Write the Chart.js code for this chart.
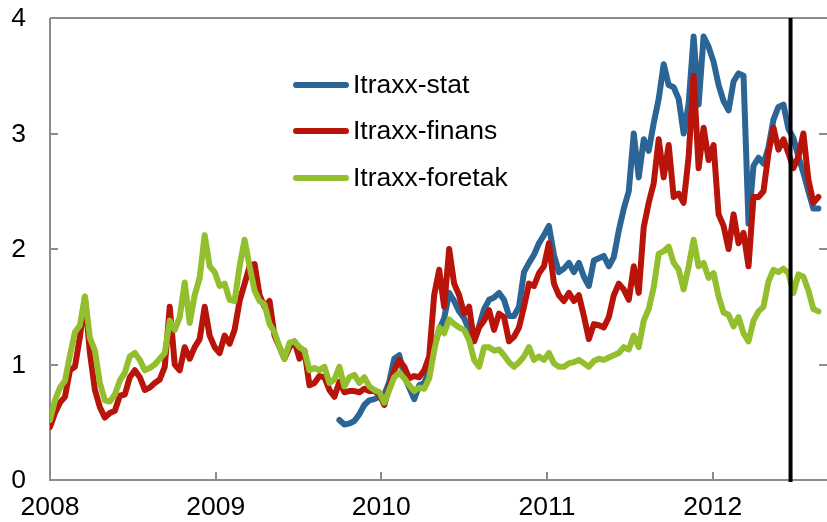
<!DOCTYPE html>
<html>
<head>
<meta charset="utf-8">
<script src="https://cdn.jsdelivr.net/npm/chart.js@4.4.1/dist/chart.umd.min.js"></script>
<style>
  html, body { margin: 0; padding: 0; background: #fff; overflow: hidden; }
  #c { display: block; }
</style>
</head>
<body>
<canvas id="c" width="827" height="522"></canvas>
<script>
// sampling grid: one point every 11 days from 1 Jan 2008
var startYear = 2008;
var stepDays = 11;
var pointCount = 155;
var dates = [];
for (var i = 0; i < pointCount; i++) dates.push(startYear + i * stepDays / 365.25);

var xTicks = [2008, 2009, 2010, 2011, 2012];
var yTicks = [0, 1, 2, 3, 4];
var xMin = 2008, xMax = 2012.69;
var markerDate = 2012.47; // vertical line

var seriesNames = ['Itraxx-stat', 'Itraxx-finans', 'Itraxx-foretak'];

var finans = [
  0.46,0.58,0.67,0.72,0.95,0.98,1.24,1.58,1.10,0.78,
  0.63,0.54,0.58,0.60,0.73,0.74,0.89,0.95,0.89,0.78,
  0.80,0.84,0.87,0.98,1.50,1.00,0.95,1.15,1.05,1.15,
  1.22,1.50,1.25,1.15,1.10,1.25,1.18,1.30,1.55,1.70,
  1.85,1.87,1.60,1.50,1.55,1.25,1.15,1.05,1.15,1.20,
  1.05,1.12,0.82,0.84,0.90,0.89,0.78,0.72,0.85,0.76,
  0.77,0.77,0.76,0.79,0.77,0.77,0.74,0.65,0.81,0.95,
  1.04,0.98,0.88,0.90,0.89,0.95,1.07,1.60,1.82,1.50,
  2.00,1.70,1.60,1.44,1.50,1.20,1.32,1.38,1.47,1.30,
  1.44,1.41,1.20,1.24,1.32,1.50,1.70,1.68,1.79,1.85,
  2.05,1.70,1.60,1.55,1.62,1.55,1.60,1.42,1.22,1.35,
  1.34,1.32,1.41,1.60,1.70,1.65,1.56,1.85,1.62,2.19,
  2.40,2.57,2.95,2.62,2.90,2.45,2.48,2.40,2.80,3.50,
  2.70,3.05,2.77,2.90,2.30,2.20,2.00,2.30,2.05,2.14,
  1.85,2.45,2.45,2.50,2.83,3.05,2.86,2.95,2.83,2.70,
  2.80,3.00,2.60,2.40,2.45
];

var foretak = [
  0.52,0.69,0.80,0.86,1.08,1.28,1.34,1.59,1.23,1.12,
  0.84,0.69,0.68,0.74,0.86,0.93,1.07,1.10,1.04,0.95,
  0.97,1.00,1.05,1.10,1.38,1.30,1.41,1.71,1.36,1.60,
  1.75,2.12,1.85,1.80,1.68,1.70,1.56,1.55,1.85,2.08,
  1.85,1.64,1.55,1.52,1.35,1.28,1.15,1.05,1.19,1.20,
  1.15,1.12,0.95,0.97,0.95,0.98,0.84,0.87,0.98,0.81,
  0.89,0.91,0.84,0.89,0.81,0.78,0.76,0.67,0.78,0.89,
  0.93,0.88,0.82,0.77,0.80,0.79,0.88,1.12,1.32,1.27,
  1.39,1.35,1.32,1.30,1.21,1.04,0.98,1.15,1.15,1.12,
  1.13,1.08,1.02,0.98,1.02,1.07,1.15,1.04,1.07,1.04,
  1.10,1.01,0.98,0.98,1.01,1.02,1.04,1.01,0.98,1.03,
  1.05,1.04,1.06,1.08,1.10,1.15,1.13,1.25,1.15,1.38,
  1.48,1.67,1.96,1.98,2.02,1.88,1.82,1.65,1.85,2.08,
  1.85,1.88,1.75,1.79,1.59,1.45,1.43,1.33,1.41,1.27,
  1.20,1.38,1.46,1.50,1.72,1.82,1.80,1.83,1.79,1.62,
  1.78,1.76,1.64,1.48,1.46
];

var stat = [
  null,null,null,null,null,null,null,null,null,null,
  null,null,null,null,null,null,null,null,null,null,
  null,null,null,null,null,null,null,null,null,null,
  null,null,null,null,null,null,null,null,null,null,
  null,null,null,null,null,null,null,null,null,null,
  null,null,null,null,null,null,null,null,0.52,0.48,
  0.49,0.51,0.57,0.65,0.69,0.70,0.72,0.74,0.85,1.05,
  1.08,0.90,0.80,0.70,0.82,0.84,0.95,1.15,1.30,1.40,
  1.62,1.55,1.46,1.40,1.30,1.22,1.33,1.48,1.56,1.58,
  1.62,1.56,1.42,1.42,1.50,1.80,1.88,1.95,2.05,2.12,
  2.20,1.95,1.80,1.83,1.88,1.80,1.88,1.76,1.68,1.90,
  1.92,1.94,1.85,1.93,2.16,2.35,2.50,3.00,2.62,2.95,
  2.85,3.09,3.30,3.60,3.42,3.40,3.30,3.00,3.26,3.84,
  3.25,3.84,3.75,3.62,3.42,3.28,3.20,3.45,3.52,3.50,
  2.22,2.72,2.79,2.74,2.88,3.12,3.23,3.25,3.04,2.96,
  2.80,2.66,2.50,2.35,2.35
];

var colStat = '#2b6595';
var colFinans = '#b8140a';
var colForetak = '#93bf2e';
var axisColor = '#8c8c8c';
var FONT = '26.5px "Liberation Sans", Arial, sans-serif';

function toPoints(vals) {
  return vals.map(function (v, i) { return { x: dates[i], y: v }; });
}

function lineSet(label, vals, color, order) {
  return {
    label: label,
    data: toPoints(vals),
    borderColor: color,
    backgroundColor: color,
    borderWidth: 6,
    pointRadius: 0,
    tension: 0,
    borderJoinStyle: 'round',
    borderCapStyle: 'round',
    spanGaps: false,
    order: order
  };
}

var framePlugin = {
  id: 'frame',
  beforeDatasetsDraw: function (chart) {
    var ctx = chart.ctx, a = chart.chartArea;
    var xs = chart.scales.x, ys = chart.scales.y;
    ctx.save();
    ctx.strokeStyle = axisColor;
    ctx.lineWidth = 2;
    ctx.beginPath();
    ctx.moveTo(a.left, a.top); ctx.lineTo(a.right, a.top);
    ctx.moveTo(a.left, a.top); ctx.lineTo(a.left, a.bottom);
    ctx.lineTo(a.right, a.bottom);
    xTicks.forEach(function (t) {
      if (t === xMin) return;
      var px = Math.round(xs.getPixelForValue(t));
      ctx.moveTo(px, a.bottom); ctx.lineTo(px, a.bottom - 8);
    });
    yTicks.forEach(function (t) {
      if (t === 0 || t === 4) return;
      var py = Math.round(ys.getPixelForValue(t));
      ctx.moveTo(a.left, py); ctx.lineTo(a.left + 8, py);
      ctx.moveTo(a.right, py); ctx.lineTo(a.right - 8, py);
    });
    ctx.stroke();

    ctx.fillStyle = '#000';
    ctx.font = FONT;
    ctx.textAlign = 'right';
    ctx.textBaseline = 'middle';
    yTicks.forEach(function (t) {
      ctx.fillText(String(t), 26, ys.getPixelForValue(t) + 1);
    });
    ctx.textAlign = 'center';
    xTicks.forEach(function (t) {
      ctx.fillText(String(t), xs.getPixelForValue(t), 508);
    });
    ctx.restore();
  },
  afterDatasetsDraw: function (chart) {
    var ctx = chart.ctx, a = chart.chartArea;
    var px = chart.scales.x.getPixelForValue(markerDate);
    ctx.save();
    ctx.strokeStyle = '#000';
    ctx.lineWidth = 4;
    ctx.beginPath();
    ctx.moveTo(px, a.top); ctx.lineTo(px, a.bottom + 2);
    ctx.stroke();

    // legend
    var cols = [colStat, colFinans, colForetak];
    var ly = [85, 131, 178];
    ctx.lineCap = 'round';
    ctx.lineWidth = 6;
    ctx.font = FONT;
    ctx.textAlign = 'left';
    ctx.textBaseline = 'middle';
    ctx.fillStyle = '#000';
    for (var k = 0; k < 3; k++) {
      ctx.strokeStyle = cols[k];
      ctx.beginPath();
      ctx.moveTo(296, ly[k]); ctx.lineTo(346, ly[k]);
      ctx.stroke();
      ctx.fillText(seriesNames[k], 353, ly[k] + 1);
    }
    ctx.restore();
  }
};

new Chart(document.getElementById('c'), {
  type: 'line',
  data: {
    datasets: [
      lineSet(seriesNames[0], stat, colStat, 3),
      lineSet(seriesNames[1], finans, colFinans, 2),
      lineSet(seriesNames[2], foretak, colForetak, 1)
    ]
  },
  options: {
    responsive: false,
    devicePixelRatio: 1,
    animation: false,
    events: [],
    layout: { padding: { left: 50, right: 0, top: 18, bottom: 42 } },
    scales: {
      x: { type: 'linear', min: xMin, max: xMax, display: false },
      y: { type: 'linear', min: 0, max: 4, display: false }
    },
    plugins: {
      legend: { display: false },
      tooltip: { enabled: false }
    }
  },
  plugins: [framePlugin]
});
</script>
</body>
</html>
